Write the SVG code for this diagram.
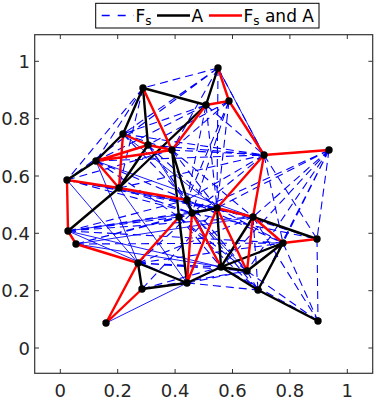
<svg xmlns="http://www.w3.org/2000/svg" width="382" height="406" viewBox="0 0 382 406">
<style>
.fs{stroke:#0000ff;stroke-width:1.1;stroke-dasharray:8 5;fill:none}
.ft{stroke:#0000ff;stroke-width:0.9;fill:none}
.a{stroke:#000;stroke-width:2.4;fill:none;stroke-linecap:round}
.r{stroke:#ff0000;stroke-width:2.4;fill:none;stroke-linecap:round}
.nd{fill:#000}
.tk{stroke:#333;stroke-width:1}
.lb{font-family:"DejaVu Sans",sans-serif;font-size:18px;fill:#262626}
.lg{font-family:"DejaVu Sans",sans-serif;font-size:17px;fill:#000}
</style>
<rect x="0" y="0" width="382" height="406" fill="#fff"/>
<g id="axes">
<rect x="34.7" y="34.7" width="338" height="338.6" fill="none" stroke="#333" stroke-width="1.2"/>
<g class="tk">
<line x1="60.3" y1="373.3" x2="60.3" y2="369"/><line x1="117.7" y1="373.3" x2="117.7" y2="369"/><line x1="175.1" y1="373.3" x2="175.1" y2="369"/><line x1="232.5" y1="373.3" x2="232.5" y2="369"/><line x1="289.9" y1="373.3" x2="289.9" y2="369"/><line x1="347.3" y1="373.3" x2="347.3" y2="369"/>
<line x1="60.3" y1="34.7" x2="60.3" y2="39"/><line x1="117.7" y1="34.7" x2="117.7" y2="39"/><line x1="175.1" y1="34.7" x2="175.1" y2="39"/><line x1="232.5" y1="34.7" x2="232.5" y2="39"/><line x1="289.9" y1="34.7" x2="289.9" y2="39"/><line x1="347.3" y1="34.7" x2="347.3" y2="39"/>
<line x1="34.7" y1="348" x2="39" y2="348"/><line x1="34.7" y1="290.7" x2="39" y2="290.7"/><line x1="34.7" y1="233.3" x2="39" y2="233.3"/><line x1="34.7" y1="176" x2="39" y2="176"/><line x1="34.7" y1="118.7" x2="39" y2="118.7"/><line x1="34.7" y1="61.3" x2="39" y2="61.3"/>
<line x1="372.7" y1="348" x2="368.4" y2="348"/><line x1="372.7" y1="290.7" x2="368.4" y2="290.7"/><line x1="372.7" y1="233.3" x2="368.4" y2="233.3"/><line x1="372.7" y1="176" x2="368.4" y2="176"/><line x1="372.7" y1="118.7" x2="368.4" y2="118.7"/><line x1="372.7" y1="61.3" x2="368.4" y2="61.3"/>
</g>
<g class="lb" text-anchor="middle">
<text x="60.3" y="397">0</text><text x="117.7" y="397">0.2</text><text x="175.1" y="397">0.4</text><text x="232.5" y="397">0.6</text><text x="289.9" y="397">0.8</text><text x="347.3" y="397">1</text>
</g>
<g class="lb" text-anchor="end">
<text x="30" y="354.5">0</text><text x="30" y="297.2">0.2</text><text x="30" y="239.8">0.4</text><text x="30" y="182.5">0.6</text><text x="30" y="125.2">0.8</text><text x="30" y="67.8">1</text>
</g>
</g>
<g id="connectors">
<g id="fs-only">
<path class="fs" d="M218,68L67,180 M218,68L143,88 M218,68L123,134 M218,68L172,150 M143,88L96,161 M143,88L67,180 M143,88L119,188 M206,105L96,161 M206,105L123,134 M229,101L172,150 M229,101L148,145 M229,101L187,200 M206,105L264,155 M206,105L187,200 M218,68L264,155 M218,68L217,208 M229,101L192,213"/>
<path class="fs" d="M329,150L264,155 M329,150L283,243 M329,150L317,239 M329,150L253,217 M329,150L247,271 M329,150L221,267 M329,150L258,290 M329,150L217,208 M317,239L318,321 M283,243L318,321 M247,271L318,321 M221,267L318,321 M264,155L283,243 M264,155L317,239 M264,155L192,213 M264,155L187,200 M229,101L264,155 M229,101L217,208 M206,105L217,208 M253,217L318,321 M329,150L192,213"/>
<path class="fs" d="M123,134L172,150 M148,145L187,200 M96,161L187,200 M67,180L187,200 M67,180L172,150 M96,161L172,150 M123,134L187,200 M119,188L217,208 M67,180L192,213 M68,231L217,208 M76,244L192,213 M68,231L179,217 M76,244L217,208 M119,188L253,217 M148,145L217,208 M172,150L217,208 M172,150L253,217 M96,161L179,217 M68,231L253,217 M76,244L179,217 M148,145L264,155 M172,150L264,155 M123,134L264,155 M119,188L264,155 M96,161L264,155 M68,231L283,243 M76,244L283,243 M67,180L253,217"/>
<path class="fs" d="M138,263L221,267 M142,289L221,267 M187,283L247,271 M187,283L258,290 M138,263L247,271 M179,217L247,271 M192,213L258,290 M179,217L258,290 M217,208L283,243 M187,200L283,243 M192,213L317,239 M217,208L317,239 M253,217L258,290 M221,267L283,243 M138,263L253,217 M119,188L192,213 M68,231L187,200 M142,289L217,208 M138,263L192,213 M247,271L258,290 M179,217L221,267 M138,263L283,243 M142,289L247,271 M187,200L247,271"/>
<path class="ft" d="M68,231L187,283 M106,323L187,283 M76,244L138,263 M67,180L138,263 M96,161L138,263 M119,188L187,283 M68,231L192,213 M76,244L253,217 M218,68L264,155 M229,101L264,155 M142,289L187,283 M148,145L192,213 M123,134L217,208 M67,180L217,208 M96,161L253,217 M187,200L221,267 M192,213L247,271 M68,231L221,267 M76,244L247,271"/>
</g>
<g id="a-only">
<path class="a" d="M143,88L206,105 M143,88L123,134 M143,88L148,145 M123,134L96,161 M96,161L67,180 M148,145L119,188 M172,150L187,200 M172,150L179,217 M119,188L68,231 M119,188L206,105 M218,68L206,105 M138,263L142,289 M138,263L187,283 M142,289L187,283 M179,217L187,283 M192,213L217,208 M253,217L317,239 M253,217L221,267 M217,208L221,267 M221,267L283,243 M283,243L258,290 M221,267L247,271 M221,267L258,290 M258,290L318,321 M221,267L187,283 M247,271L283,243 M187,200L192,213"/>
</g>
<g id="fs-and-a">
<path class="r" d="M143,88L172,150 M206,105L172,150 M123,134L148,145 M123,134L119,188 M96,161L119,188 M96,161L148,145 M148,145L172,150 M67,180L119,188 M119,188L187,200 M67,180L68,231 M68,231L76,244 M76,244L138,263 M106,323L138,263 M106,323L142,289 M138,263L179,217 M192,213L187,283 M217,208L253,217 M253,217L283,243 M283,243L317,239 M264,155L253,217 M264,155L329,150 M264,155L217,208 M229,101L264,155 M206,105L229,101 M218,68L229,101 M217,208L247,271 M192,213L221,267 M187,283L217,208 M253,217L247,271 M96,161L172,150"/>
</g>
</g>
<g id="nodes">
<g id="n-a"><circle class="nd" cx="143" cy="88" r="3.7"/></g>
<g id="n-b"><circle class="nd" cx="206" cy="105" r="3.7"/></g>
<g id="n-c"><circle class="nd" cx="123" cy="134" r="3.7"/></g>
<g id="n-d"><circle class="nd" cx="148" cy="145" r="3.7"/></g>
<g id="n-e"><circle class="nd" cx="172" cy="150" r="3.7"/></g>
<g id="n-f"><circle class="nd" cx="96" cy="161" r="3.7"/></g>
<g id="n-g"><circle class="nd" cx="67" cy="180" r="3.7"/></g>
<g id="n-h"><circle class="nd" cx="119" cy="188" r="3.7"/></g>
<g id="n-i"><circle class="nd" cx="187" cy="200" r="3.7"/></g>
<g id="n-j"><circle class="nd" cx="218" cy="68" r="3.7"/></g>
<g id="n-k"><circle class="nd" cx="229" cy="101" r="3.7"/></g>
<g id="n-l"><circle class="nd" cx="264" cy="155" r="3.7"/></g>
<g id="n-m"><circle class="nd" cx="329" cy="150" r="3.7"/></g>
<g id="n-n"><circle class="nd" cx="217" cy="208" r="3.7"/></g>
<g id="n-o"><circle class="nd" cx="192" cy="213" r="3.7"/></g>
<g id="n-p"><circle class="nd" cx="253" cy="217" r="3.7"/></g>
<g id="n-q"><circle class="nd" cx="283" cy="243" r="3.7"/></g>
<g id="n-r"><circle class="nd" cx="317" cy="239" r="3.7"/></g>
<g id="n-s"><circle class="nd" cx="221" cy="267" r="3.7"/></g>
<g id="n-t"><circle class="nd" cx="247" cy="271" r="3.7"/></g>
<g id="n-u"><circle class="nd" cx="258" cy="290" r="3.7"/></g>
<g id="n-v"><circle class="nd" cx="318" cy="321" r="3.7"/></g>
<g id="n-w"><circle class="nd" cx="179" cy="217" r="3.7"/></g>
<g id="n-x"><circle class="nd" cx="68" cy="231" r="3.7"/></g>
<g id="n-y"><circle class="nd" cx="76" cy="244" r="3.7"/></g>
<g id="n-z"><circle class="nd" cx="138" cy="263" r="3.7"/></g>
<g id="n-aa"><circle class="nd" cx="142" cy="289" r="3.7"/></g>
<g id="n-bb"><circle class="nd" cx="187" cy="283" r="3.7"/></g>
<g id="n-cc"><circle class="nd" cx="106" cy="323" r="3.7"/></g>
</g>
<g id="legend">
<rect x="95.7" y="3.3" width="223.3" height="24.7" fill="#fff" stroke="#000" stroke-width="1"/>
<line x1="101.7" y1="15.5" x2="134" y2="15.5" stroke="#0000ff" stroke-width="1.3" stroke-dasharray="8 8"/>
<text class="lg" x="135.5" y="21.5">F<tspan font-size="12" dy="3">s</tspan></text>
<line x1="157" y1="15.5" x2="190" y2="15.5" stroke="#000" stroke-width="2.4"/>
<text class="lg" x="191.5" y="21.5">A</text>
<line x1="209" y1="15.5" x2="242" y2="15.5" stroke="#ff0000" stroke-width="2.4"/>
<text class="lg" x="243.5" y="21.5">F<tspan font-size="12" dy="3">s</tspan><tspan dy="-3"> and A</tspan></text>
</g>
</svg>
